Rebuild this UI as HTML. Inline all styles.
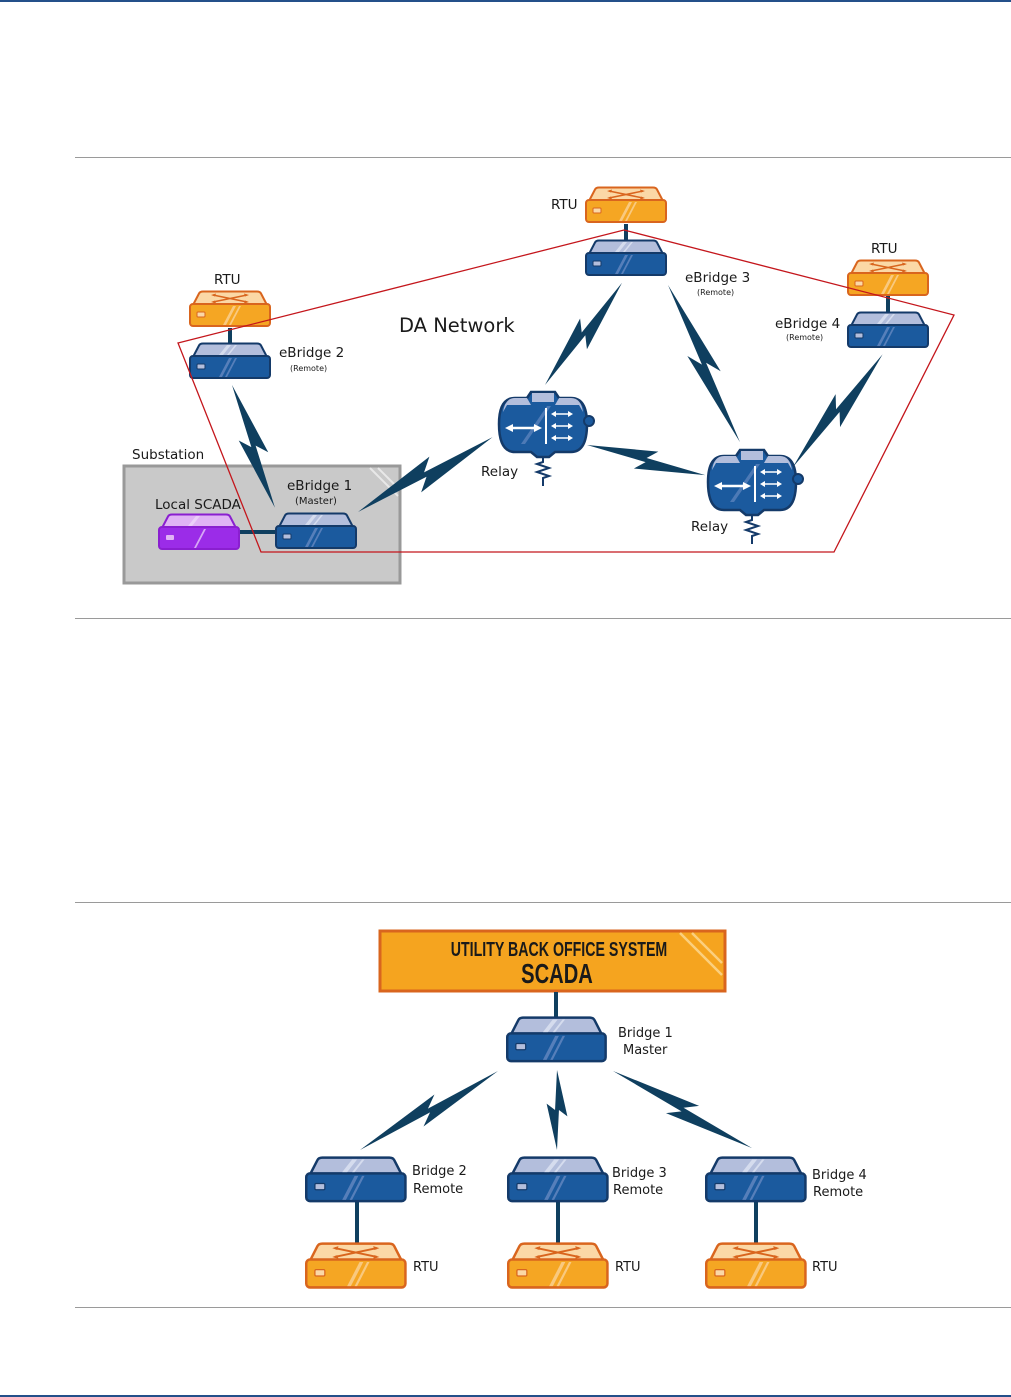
<!DOCTYPE html>
<html><head><meta charset="utf-8"><style>
html,body{margin:0;padding:0;background:#fff;}
svg{display:block;}
text{font-family:"DejaVu Sans","Liberation Sans",sans-serif;fill:#1a1a1a;}
</style></head><body>
<svg width="1011" height="1397" viewBox="0 0 1011 1397" xmlns="http://www.w3.org/2000/svg">
<defs>
 <g id="bridge">
  <path d="M4,14 L10,2.5 Q11,0.5 14,0.5 L68,0.5 Q71,0.5 72,2.5 L78,14 Z" fill="#b3bedc" stroke="#143a69" stroke-width="2"/>
  <rect x="1" y="13" width="80" height="22" rx="3" fill="#1b5a9e" stroke="#143a69" stroke-width="2"/>
  <rect x="8" y="21" width="8" height="5" rx="1" fill="#b3bedc" stroke="#143a69" stroke-width="1"/>
  <path d="M30,12 L38,2 L42,2 L34,12Z M38,12 L46,2 L48,2 L40,12Z" fill="#dde3f2" opacity="0.8"/>
  <path d="M30,34 L40,15 L43,15 L33,34Z M36,34 L46,15 L48,15 L38,34Z" fill="#6f8fc6" opacity="0.7"/>
 </g>
 <g id="rtu">
  <path d="M4,14 L10,2.5 Q11,0.5 14,0.5 L68,0.5 Q71,0.5 72,2.5 L78,14 Z" fill="#fbd8a6" stroke="#d9651e" stroke-width="2"/>
  <path d="M24,4 L58,11 M24,11 L58,4" stroke="#d9651e" stroke-width="1.5"/>
  <path d="M22,4 l5,-1.5 l-1,3z M60,11 l-5,1.5 l1,-3z M22,11 l5,1.5 l-1,-3z M60,4 l-5,-1.5 l1,3z" fill="#d9651e"/>
  <rect x="1" y="13" width="80" height="22" rx="3" fill="#f5a623" stroke="#d9651e" stroke-width="2"/>
  <rect x="8" y="21" width="8" height="5" rx="1" fill="#fbd8a6" stroke="#d9651e" stroke-width="1"/>
  <path d="M34,34 L44,15 L47,15 L37,34Z M40,34 L50,15 L52,15 L42,34Z" fill="#fbd8a6" opacity="0.7"/>
 </g>
 <g id="scada">
  <path d="M4,14 L10,2.5 Q11,0.5 14,0.5 L68,0.5 Q71,0.5 72,2.5 L78,14 Z" fill="#e0b3f5" stroke="#8a1fd0" stroke-width="2"/>
  <rect x="1" y="13" width="80" height="22" rx="3" fill="#9b2ce8" stroke="#8a1fd0" stroke-width="2"/>
  <rect x="8" y="21" width="8" height="5" rx="1" fill="#e0b3f5"/>
  <path d="M30,12 L38,2 L42,2 L34,12Z M36,34 L46,15 L48,15 L38,34Z" fill="#f0dcfb" opacity="0.7"/>
 </g>
 <g id="relay">
  <path d="M-28,-26 L-16,-26 L-12,-32 L12,-32 L16,-26 L28,-26 Q44,-26 44,0 Q44,28 28,28 L12,28 L6,33 L-6,33 L-12,28 L-28,28 Q-44,28 -44,0 Q-44,-26 -28,-26Z" fill="#1b5a9e" stroke="#143a69" stroke-width="2.5"/>
  <path d="M-40,-12 Q-38,-26 -28,-26 L-16,-26 L-12,-19 L-36,-19Z" fill="#b3bedc"/>
  <path d="M-11,-31 L11,-31 L11,-22 L-11,-22Z" fill="#b3bedc"/>
  <path d="M40,-12 Q38,-26 28,-26 L16,-26 L12,-19 L36,-19Z" fill="#b3bedc"/>
  <circle cx="46" cy="-3" r="5" fill="#1b5a9e" stroke="#143a69" stroke-width="2"/>
  <path d="M-22,20 L4,-18 L8,-18 L-18,20Z" fill="#6f8fc6" opacity="0.6"/>
  <path d="M-34,4 L-4,4" stroke="#fff" stroke-width="2.5"/>
  <path d="M-38,4 l8,-4 v8z M-1,4 l-8,-4 v8z" fill="#fff"/>
  <path d="M3,-16 L3,20" stroke="#fff" stroke-width="2"/>
  <path d="M10,-10 H28 M10,2 H28 M10,14 H28" stroke="#fff" stroke-width="1.5"/>
  <path d="M8,-10 l5,-3 v6z M30,-10 l-5,-3 v6z M8,2 l5,-3 v6z M30,2 l-5,-3 v6z M8,14 l5,-3 v6z M30,14 l-5,-3 v6z" fill="#fff"/>
  <path d="M0,33 L0,38 L-6,40 L6,44 L-6,48 L6,52 L0,54 L0,62" fill="none" stroke="#143a69" stroke-width="2"/>
 </g>
 <polygon id="bolt" points="0,0 58,-8 50,-1.5 100,0 42,8 50,1.5" fill="#0f3f5f"/>
</defs>

<rect x="0" y="0" width="1011" height="2" fill="#24508a"/>
<rect x="0" y="1395" width="1011" height="2" fill="#24508a"/>
<g stroke="#9a9a9a" stroke-width="1">
 <line x1="75" y1="157.5" x2="1011" y2="157.5"/>
 <line x1="75" y1="618.5" x2="1011" y2="618.5"/>
 <line x1="75" y1="902.5" x2="1011" y2="902.5"/>
 <line x1="75" y1="1307.5" x2="1011" y2="1307.5"/>
</g>

<rect x="124" y="466" width="276" height="117" fill="#c9c9c9" stroke="#999" stroke-width="3"/>
<path d="M370,468 L398,496 M378,468 L398,488" stroke="#e8e8e8" stroke-width="2"/>
<text x="132" y="459" font-size="13.5">Substation</text>

<g stroke="#0f3f5f" stroke-width="4">
 <line x1="626" y1="224" x2="626" y2="241"/>
 <line x1="230" y1="328" x2="230" y2="344"/>
 <line x1="888" y1="296" x2="888" y2="313"/>
 <line x1="240" y1="532" x2="276" y2="532"/>
</g>

<use href="#rtu" x="585" y="187"/>
<use href="#rtu" x="189" y="291"/>
<use href="#rtu" x="847" y="260"/>
<use href="#bridge" x="585" y="240"/>
<use href="#bridge" x="189" y="343"/>
<use href="#bridge" x="847" y="312"/>
<use href="#bridge" x="275" y="513"/>
<use href="#scada" x="158" y="514"/>

<polygon points="178,343 624,230 954,315 834,552 261,552" fill="none" stroke="#c4161c" stroke-width="1.3"/>

<use href="#relay" transform="translate(543,424)"/>
<use href="#relay" transform="translate(752,482)"/>

<use href="#bolt" transform="translate(232,385) rotate(70.7) scale(1.30,1.5)"/>
<use href="#bolt" transform="translate(358,512) rotate(-29.1) scale(1.54,1.7)"/>
<use href="#bolt" transform="translate(545,385) rotate(-53) scale(1.28,1.5)"/>
<use href="#bolt" transform="translate(668,285) rotate(65.4) scale(1.73,1.5)"/>
<use href="#bolt" transform="translate(587,445) rotate(14.3) scale(1.22,1.4)"/>
<use href="#bolt" transform="translate(793,467) rotate(-51.5) scale(1.44,1.5)"/>

<g font-size="13.5">
<text x="551" y="209">RTU</text>
<text x="214" y="284">RTU</text>
<text x="871" y="253">RTU</text>
<text x="685" y="282">eBridge 3</text>
<text x="279" y="357">eBridge 2</text>
<text x="775" y="328">eBridge 4</text>
<text x="287" y="490">eBridge 1</text>
<text x="155" y="509">Local SCADA</text>
<text x="481" y="476">Relay</text>
<text x="691" y="531">Relay</text>
</g>
<text x="697" y="295" font-size="8" fill="#333">(Remote)</text>
<text x="290" y="371" font-size="8" fill="#333">(Remote)</text>
<text x="786" y="340" font-size="8" fill="#333">(Remote)</text>
<text x="295" y="504" font-size="10" fill="#333">(Master)</text>
<text x="399" y="332" font-size="19.5">DA Network</text>

<rect x="380" y="931" width="345" height="60" fill="#f5a41f" stroke="#d9651e" stroke-width="3"/>
<path d="M680,933 L722,975 M692,933 L722,963" stroke="#fbcf7e" stroke-width="2.5"/>
<text x="559" y="956" font-size="20" font-weight="bold" text-anchor="middle" transform="translate(559,0) scale(0.71,1) translate(-559,0)" style="font-family:'Liberation Sans Narrow','Liberation Sans',sans-serif">UTILITY BACK OFFICE SYSTEM</text>
<text x="557" y="983" font-size="28" font-weight="bold" text-anchor="middle" transform="translate(557,0) scale(0.72,1) translate(-557,0)" style="font-family:'Liberation Sans Narrow','Liberation Sans',sans-serif">SCADA</text>

<g stroke="#0f3f5f" stroke-width="4">
 <line x1="556" y1="992" x2="556" y2="1018"/>
 <line x1="357" y1="1202" x2="357" y2="1244"/>
 <line x1="558" y1="1202" x2="558" y2="1244"/>
 <line x1="756" y1="1202" x2="756" y2="1244"/>
</g>

<use href="#bridge" transform="translate(506,1017) scale(1.23,1.26)"/>
<use href="#bridge" transform="translate(305,1157) scale(1.24,1.26)"/>
<use href="#bridge" transform="translate(507,1157) scale(1.24,1.26)"/>
<use href="#bridge" transform="translate(705,1157) scale(1.24,1.26)"/>
<use href="#rtu" transform="translate(305,1243) scale(1.24,1.27)"/>
<use href="#rtu" transform="translate(507,1243) scale(1.24,1.27)"/>
<use href="#rtu" transform="translate(705,1243) scale(1.24,1.27)"/>

<use href="#bolt" transform="translate(360,1150) rotate(-29.8) scale(1.59,1.4)"/>
<use href="#bolt" transform="translate(557,1150) rotate(-90) scale(0.8,1.3)"/>
<use href="#bolt" transform="translate(613,1071) rotate(29) scale(1.59,1.4)"/>

<g font-size="13" fill="#222">
 <text x="618" y="1037">Bridge 1</text>
 <text x="623" y="1054">Master</text>
 <text x="412" y="1175">Bridge 2</text>
 <text x="413" y="1193">Remote</text>
 <text x="612" y="1177">Bridge 3</text>
 <text x="613" y="1194">Remote</text>
 <text x="812" y="1179">Bridge 4</text>
 <text x="813" y="1196">Remote</text>
 <text x="413" y="1271">RTU</text>
 <text x="615" y="1271">RTU</text>
 <text x="812" y="1271">RTU</text>
</g>
</svg>
</body></html>
